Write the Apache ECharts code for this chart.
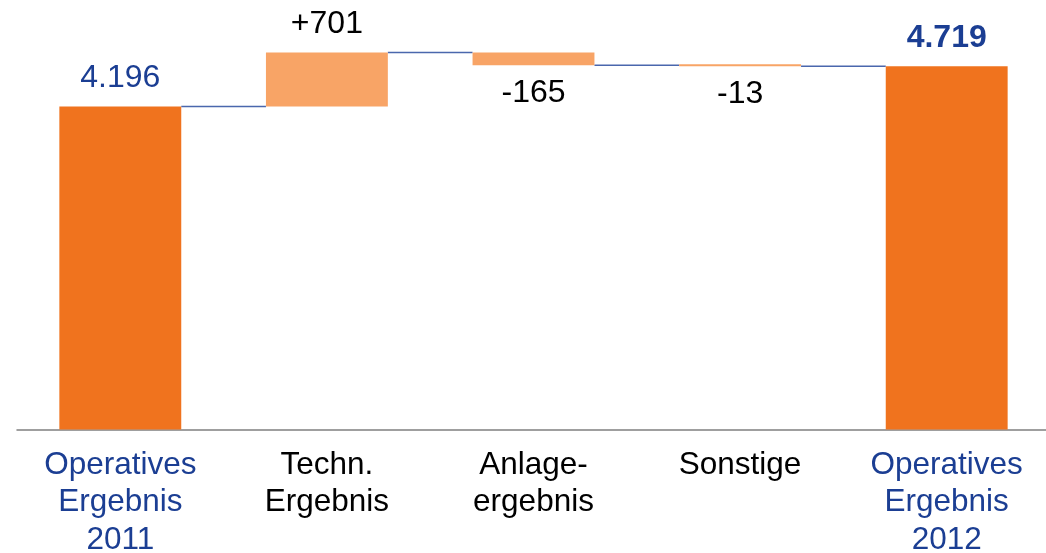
<!DOCTYPE html>
<html lang="de">
<head>
    <meta charset="UTF-8">
    <title>Operatives Ergebnis</title>
    <script src="https://cdn.jsdelivr.net/npm/echarts@6/dist/echarts.min.js"></script>
    <style>
        html, body { margin: 0; padding: 0; background: #ffffff; }
        #main { width: 1046px; height: 553px; }
    </style>
</head>
<body>
<div id="main"></div>
<script>
    // Daten
    var categories = ['Operatives\nErgebnis\n2011', 'Techn.\nErgebnis', 'Anlage-\nergebnis', 'Sonstige', 'Operatives\nErgebnis\n2012'];
    var changes = [4196, 701, -165, -13, 4719];
    var isTotal = [true, false, false, false, true];
    var valueLabels = ['4.196', '+701', '-165', '-13', '4.719'];

    var blue = '#1b3e93';
    var orange = '#f0731e';
    var lightOrange = '#f8a466';
    var font = 'Liberation Sans, Arial, sans-serif';

    // Hilfsreihen für den Wasserfall
    var baseData = [], barData = [], levels = [];
    var running = 0;
    for (var i = 0; i < changes.length; i++) {
        var d = changes[i];
        var bold = (i === changes.length - 1);
        if (isTotal[i]) {
            baseData.push(0);
            running = d;
            barData.push({
                value: d,
                itemStyle: { color: orange },
                label: { show: true, position: 'top', distance: 12, formatter: valueLabels[i], color: blue, fontWeight: bold ? 'bold' : 'normal' }
            });
        } else {
            var start = running;
            running = running + d;
            baseData.push(Math.min(start, running));
            barData.push({
                value: Math.abs(d),
                itemStyle: { color: lightOrange },
                label: { show: true, position: d >= 0 ? 'top' : 'bottom', distance: 12, formatter: valueLabels[i], color: '#000000' }
            });
        }
        if (i < changes.length - 1) levels.push([i, running]);
    }

    var axisData = categories.map(function (c, i) {
        return { value: c, textStyle: { color: isTotal[i] ? blue : '#000000' } };
    });

    var barRatio = 0.59;
    var myChart = echarts.init(document.getElementById('main'));
    var option = {
        animation: false,
        grid: { left: 17, right: -4, top: 0, bottom: 123.5, outerBoundsMode: 'none' },
        xAxis: {
            type: 'category',
            data: axisData,
            axisLine: { lineStyle: { color: '#808080', width: 1.5 } },
            axisTick: { show: false },
            axisLabel: { interval: 0, fontSize: 31.5, lineHeight: 37.5, fontFamily: font, margin: 17 }
        },
        yAxis: {
            type: 'value',
            min: 0,
            max: 5580,
            show: false,
            splitLine: { show: false }
        },
        series: [
            {
                type: 'bar',
                stack: 'w',
                barWidth: (barRatio * 100) + '%',
                itemStyle: { color: 'transparent' },
                data: baseData,
                silent: true
            },
            {
                type: 'bar',
                stack: 'w',
                barMinHeight: 2,
                label: { fontSize: 32, fontFamily: font },
                data: barData
            },
            {
                type: 'custom',
                data: levels,
                z: 1,
                renderItem: function (params, api) {
                    var idx = api.value(0);
                    var p1 = api.coord([idx, api.value(1)]);
                    var p2 = api.coord([idx + 1, api.value(1)]);
                    var half = api.size([1, 0])[0] * barRatio / 2;
                    return {
                        type: 'line',
                        shape: { x1: p1[0] + half, y1: p1[1], x2: p2[0] - half, y2: p2[1] },
                        style: { stroke: '#4a67ad', lineWidth: 1.5 }
                    };
                }
            }
        ]
    };
    myChart.setOption(option);
</script>
</body>
</html>
